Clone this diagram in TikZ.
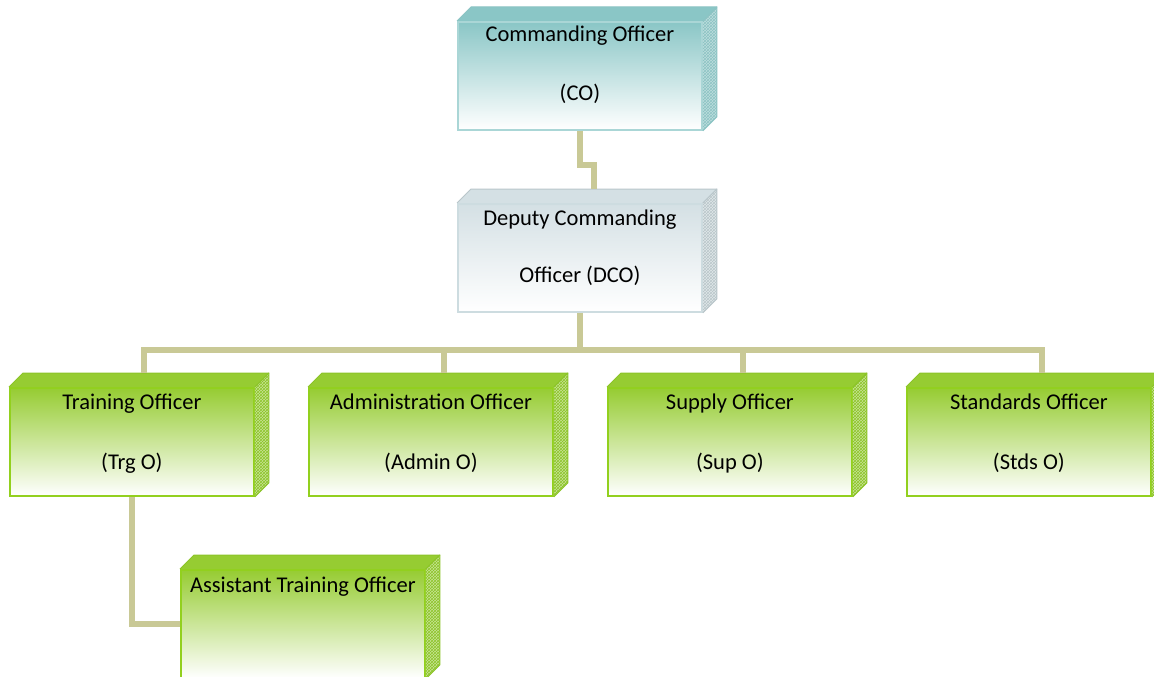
\documentclass[tikz,border=0pt]{standalone}
\usepackage{fontspec}
\setmainfont{Carlito}
\usetikzlibrary{patterns}
\definecolor{conncol}{RGB}{201,201,150}
\definecolor{tealtop}{RGB}{138,198,198}
\definecolor{tealmid}{RGB}{200,230,230}
\definecolor{tealside}{RGB}{190,222,222}
\definecolor{tealhatch}{RGB}{140,196,196}
\definecolor{tealborder}{RGB}{170,214,214}
\definecolor{graytop}{RGB}{212,224,228}
\definecolor{graymid}{RGB}{232,238,240}
\definecolor{grayside}{RGB}{225,232,234}
\definecolor{grayhatch}{RGB}{185,198,202}
\definecolor{grayborder}{RGB}{205,220,224}
\definecolor{greentop}{RGB}{150,204,50}
\definecolor{greenmid}{RGB}{205,230,165}
\definecolor{greenside}{RGB}{200,228,150}
\definecolor{greenhatch}{RGB}{140,196,40}
\definecolor{greenborder}{RGB}{146,208,30}
\newcommand\boxfaces[4]{% name, top fill, side fill, hatch
  \fill[#2] (#1.north west) -- ++(14pt,14pt) -- ([shift={(14pt,14pt)}]#1.north east) -- (#1.north east) -- cycle;
  \fill[#3] (#1.north east) -- ++(14pt,14pt) -- ([shift={(14pt,14pt)}]#1.south east) -- (#1.south east) -- cycle;
  \fill[pattern=crosshatch, pattern color=#4] (#1.north east) -- ++(14pt,14pt) -- ([shift={(14pt,14pt)}]#1.south east) -- (#1.south east) -- cycle;
  \draw[#4, line width=1pt] (#1.north west) -- ++(14pt,14pt) -- ([shift={(14pt,14pt)}]#1.north east) -- ([shift={(14pt,14pt)}]#1.south east) -- (#1.south east);
  \draw[#4, line width=1pt] (#1.north east) -- ++(14pt,14pt);
}
\tikzset{
  front/.style={rectangle, anchor=north west, inner sep=0pt, minimum width=244pt, minimum height=108pt, line width=1.8pt},
  cobox/.style={front, draw=tealborder, top color=tealtop, middle color=tealmid, bottom color=white},
  dcobox/.style={front, draw=grayborder, top color=graytop, middle color=graymid, bottom color=white},
  greenbox/.style={front, draw=greenborder, top color=greentop, middle color=greenmid, bottom color=white},
  txt/.style={anchor=base, inner sep=0pt, font=\fontsize{22.5}{27}\selectfont, text=black},
  conn/.style={draw=conncol, line width=6pt}
}
\begin{document}
\begin{tikzpicture}[x=1pt,y=-1pt]
\useasboundingbox (0,0) rectangle (1154,677);
\clip (0,0) rectangle (1154,677);
\fill[white] (0,0) rectangle (1154,677);

% boxes
\node[cobox] (co) at (457,21) {};
\node[dcobox] (dco) at (457,203) {};
\node[greenbox] (trg) at (9,387) {};
\node[greenbox] (adm) at (308,387) {};
\node[greenbox] (sup) at (607,387) {};
\node[greenbox] (std) at (906,387) {};
\node[greenbox] (ast) at (180,569) {};

\boxfaces{co}{tealtop}{tealside}{tealhatch}
\boxfaces{dco}{graytop}{grayside}{grayhatch}
\boxfaces{trg}{greentop}{greenside}{greenhatch}
\boxfaces{adm}{greentop}{greenside}{greenhatch}
\boxfaces{sup}{greentop}{greenside}{greenhatch}
\boxfaces{std}{greentop}{greenside}{greenhatch}
\boxfaces{ast}{greentop}{greenside}{greenhatch}

% texts
\node[txt] (co1) at ([yshift=-21pt]co.north) {Commanding Officer};
\node[txt] (co2) at ([yshift=-79pt]co.north) {(CO)};
\node[txt] (dco1) at ([yshift=-22pt]dco.north) {Deputy Commanding};
\node[txt] (dco2) at ([yshift=-79pt]dco.north) {Officer (DCO)};
\node[txt] (trg1) at ([yshift=-22pt]trg.north) {Training Officer};
\node[txt] (trg2) at ([yshift=-82pt]trg.north) {(Trg O)};
\node[txt] (adm1) at ([yshift=-22pt]adm.north) {Administration Officer};
\node[txt] (adm2) at ([yshift=-82pt]adm.north) {(Admin O)};
\node[txt] (sup1) at ([yshift=-22pt]sup.north) {Supply Officer};
\node[txt] (sup2) at ([yshift=-82pt]sup.north) {(Sup O)};
\node[txt] (std1) at ([yshift=-22pt]std.north) {Standards Officer};
\node[txt] (std2) at ([yshift=-82pt]std.north) {(Stds O)};
\node[txt] (ast1) at ([yshift=-23pt]ast.north) {Assistant Training Officer};

% back-top centres
\coordinate (dcoB) at ([shift={(14pt,14pt)}]dco.north);
\coordinate (trgB) at ([shift={(12pt,14pt)}]trg.north);
\coordinate (admB) at ([shift={(13pt,14pt)}]adm.north);
\coordinate (supB) at ([shift={(13pt,14pt)}]sup.north);
\coordinate (stdB) at ([shift={(13pt,14pt)}]std.north);

% connectors
\draw[conn] (co.south) -- ++(0,34) -| (dcoB);
\draw[conn] (dco.south) -- ++(0,37) coordinate (bus);
\draw[conn] (trgB) -- (trgB |- bus) -- (stdB |- bus) -- (stdB);
\draw[conn] (admB) -- (admB |- bus);
\draw[conn] (supB) -- (supB |- bus);
\draw[conn] (trg.south) |- (ast.west);
\end{tikzpicture}
\end{document}
